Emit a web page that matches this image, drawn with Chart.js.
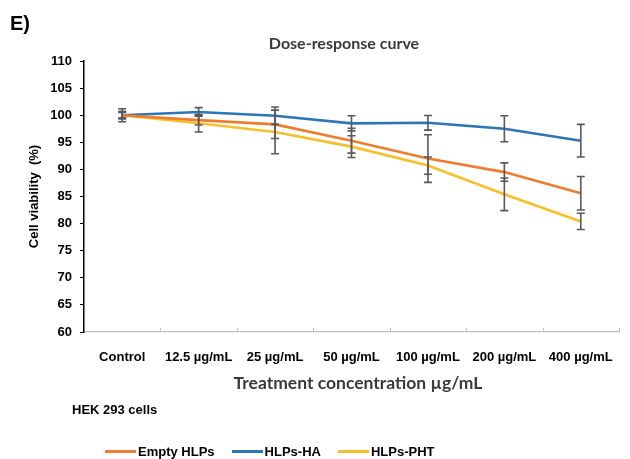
<!DOCTYPE html>
<html lang="en">
<head>
<meta charset="UTF-8">
<title>Dose-response curve</title>
<script src="https://cdn.jsdelivr.net/npm/chart.js"></script>
<style>
  html, body { margin: 0; padding: 0; background: #fff; }
  #wrap { position: relative; width: 630px; height: 459px; overflow: hidden; }
  #wrap canvas { position: absolute; left: 0; top: 0; }
  .txt { position: absolute; white-space: nowrap; color: #000; }
  #panel { left: 10px; top: 12px; font: bold 20px "Liberation Sans", Arial, sans-serif; }
  #title { left: 0; width: 688px; text-align: center; top: 33px; font: bold 16px Lato, "Open Sans", sans-serif; color: #3a3a3a; }
  #xtitle { left: 0; width: 716px; text-align: center; top: 372px; font: bold 17.5px Lato, "Open Sans", sans-serif; color: #3a3a3a; }
  #cells { left: 72px; top: 402px; font: bold 13px "Liberation Sans", Arial, sans-serif; }
  #legend { position: absolute; left: 105px; top: 444px; display: flex; font: bold 13px "Liberation Sans", Arial, sans-serif; }
  #legend .item { display: flex; align-items: center; margin-right: 17px; }
  #legend .line { width: 31px; height: 2.5px; margin-right: 2px; }
</style>
</head>
<body>
<div id="wrap">
  <canvas id="chart" width="630" height="459"></canvas>
  <div class="txt" id="panel">E)</div>
  <div class="txt" id="title">Dose-response curve</div>
  <div class="txt" id="xtitle">Treatment concentration µg/mL</div>
  <div class="txt" id="cells">HEK 293 cells</div>
  <div id="legend"></div>
</div>
<script>
  const categories = ['Control', '12.5 µg/mL', '25 µg/mL', '50 µg/mL', '100 µg/mL', '200 µg/mL', '400 µg/mL'];

  const emptyHLPs = [100, 99.1, 98.3, 95.3, 92.0, 89.5, 85.6];
  const emptyErr  = [0.7, 0.9, 2.6, 2.3, 4.4, 1.7, 3.1];

  const hlpsHA = [100, 100.6, 99.9, 98.5, 98.6, 97.5, 95.3];
  const haErr  = [1.2, 0.8, 1.6, 1.4, 1.35, 2.4, 3.0];

  const hlpsPHT = [100, 98.5, 96.9, 94.2, 90.7, 85.4, 80.4];
  const phtErr  = [0.5, 1.6, 4.0, 2.0, 1.6, 3.0, 1.5];

  const yTicks = [60, 65, 70, 75, 80, 85, 90, 95, 100, 105, 110];

  const tickFont = { family: '"Liberation Sans", Arial, sans-serif', size: 13, weight: 'bold' };

  // error bars + small category dividers on the x axis
  const errorBars = {
    id: 'errorBars',
    afterDatasetsDraw(chart) {
      const ctx = chart.ctx;
      const y = chart.scales.y;
      const x = chart.scales.x;
      const area = chart.chartArea;

      ctx.save();
      ctx.strokeStyle = '#BFBFBF';
      ctx.lineWidth = 1;
      const band = (area.right - area.left) / categories.length;
      for (let i = 1; i <= categories.length; i++) {
        const px = Math.round(area.left + i * band) + 0.5;
        ctx.beginPath();
        ctx.moveTo(px, area.bottom);
        ctx.lineTo(px, area.bottom - 4);
        ctx.stroke();
      }

      ctx.strokeStyle = '#595959';
      ctx.lineWidth = 1.6;
      chart.data.datasets.forEach(ds => {
        ds.data.forEach((v, i) => {
          const e = ds.errors[i];
          const px = x.getPixelForValue(i);
          const top = y.getPixelForValue(v + e);
          const bot = y.getPixelForValue(v - e);
          ctx.beginPath();
          ctx.moveTo(px, top); ctx.lineTo(px, bot);
          ctx.moveTo(px - 4, top); ctx.lineTo(px + 4, top);
          ctx.moveTo(px - 4, bot); ctx.lineTo(px + 4, bot);
          ctx.stroke();
        });
      });
      ctx.restore();
    }
  };

  const chart = new Chart(document.getElementById('chart'), {
    type: 'line',
    data: {
      labels: categories,
      datasets: [
        { label: 'Empty HLPs', data: emptyHLPs, errors: emptyErr, borderColor: '#ED7D31' },
        { label: 'HLPs-HA', data: hlpsHA, errors: haErr, borderColor: '#2E75B6' },
        { label: 'HLPs-PHT', data: hlpsPHT, errors: phtErr, borderColor: '#F5C02C' }
      ].map(d => Object.assign(d, { borderWidth: 2.6, pointRadius: 0, tension: 0, fill: false }))
    },
    options: {
      responsive: false,
      animation: false,
      layout: { padding: { left: 0, top: 61, right: 11, bottom: 67 } },
      plugins: {
        legend: { display: false },
        tooltip: { enabled: false }
      },
      scales: {
        x: {
          offset: true,
          border: { color: '#BFBFBF', width: 1.2 },
          grid: { display: false },
          ticks: { color: '#000', font: tickFont, padding: 10, maxRotation: 0, autoSkip: false },
          afterFit(s) { s.height = 60; }
        },
        y: {
          min: 60,
          max: 110,
          border: { color: '#000', width: 1.5 },
          grid: { drawOnChartArea: false, drawTicks: true, tickLength: 4, color: '#000' },
          afterBuildTicks(s) { s.ticks = yTicks.map(v => ({ value: v })); },
          ticks: { color: '#000', font: tickFont, padding: 8 },
          title: {
            display: true,
            text: 'Cell viability  (%)',
            color: '#000',
            font: tickFont,
            padding: { top: 27, bottom: 0 }
          },
          afterFit(s) { s.width = 84; }
        }
      }
    },
    plugins: [errorBars]
  });

  // legend built from the datasets
  const legend = document.getElementById('legend');
  chart.data.datasets.forEach(ds => {
    const item = document.createElement('div');
    item.className = 'item';
    item.innerHTML = '<span class="line" style="background:' + ds.borderColor + '"></span>' + ds.label;
    legend.appendChild(item);
  });
</script>
</body>
</html>
